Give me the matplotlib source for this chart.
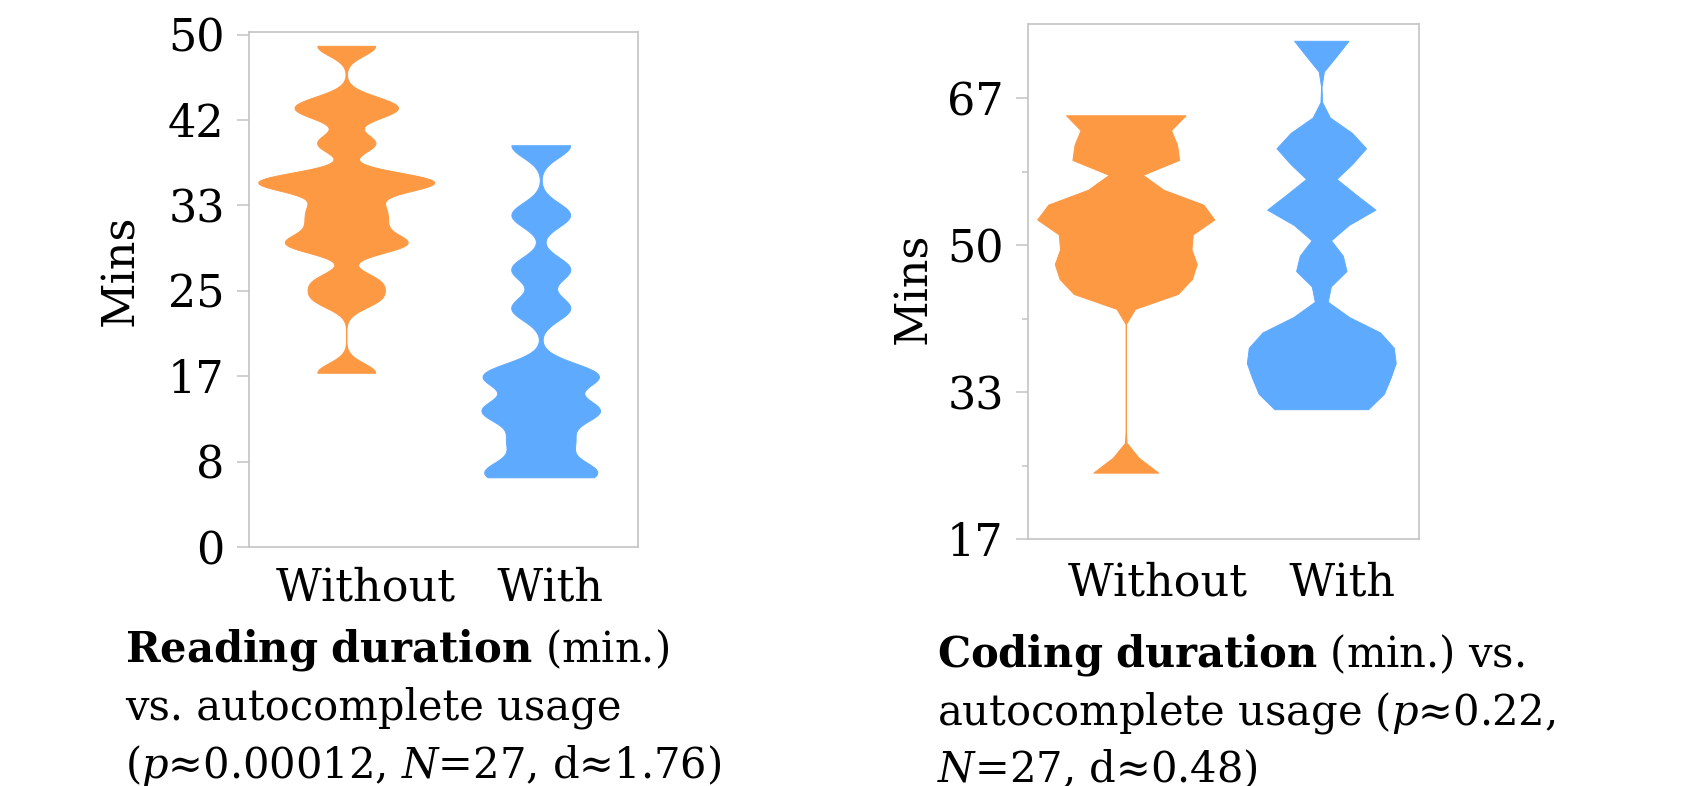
import numpy as np
import matplotlib
matplotlib.use('Agg')
import matplotlib.pyplot as plt
from matplotlib import cbook, mlab

# minutes per participant
reading_without = [48.9, 43.3, 42.4, 39.4, 35.6, 35.6, 35.6, 33.2, 31.6,
                   29.6, 29.6, 25.9, 24.2, 17.0]
reading_with = [39.2, 32.4, 27.1, 23.3, 17.0, 16.4, 13.6, 13.0, 10.3,
                7.6, 6.8]
coding_without = [64.75, 64.0, 60.8, 60.0, 55.6, 54.2, 53.2, 52.3, 50.6,
                  48.6, 48.0, 45.6, 45.0, 24.2]
coding_with = [73.2, 62.0, 60.0, 54.2, 54.2, 47.7, 40.6, 39.2, 37.6,
               36.3, 34.8, 33.0, 31.4]

group_labels = ['Without', 'With']
colors = ['#fd9843', '#5eaaff']

reading_caption = [r'$\mathbf{Reading\ duration}$ (min.)',
                   'vs. autocomplete usage',
                   r'($\mathit{p}$≈0.00012, $\mathit{N}$=27, d≈1.76)']
coding_caption = [r'$\mathbf{Coding\ duration}$ (min.) vs.',
                  r'autocomplete usage ($\mathit{p}$≈0.22,',
                  r'$\mathit{N}$=27, d≈0.48)']

plt.rcParams['font.family'] = 'DejaVu Serif'
plt.rcParams['mathtext.fontset'] = 'dejavuserif'

GRAY = '#c4c4c4'


def draw_violins(ax, data, bw, points, max_width):
    def kde(x, coords):
        return mlab.GaussianKDE(x, bw).evaluate(coords)

    stats = cbook.violin_stats(data, kde, points=points)
    peaks = [s['vals'].max() for s in stats]
    widths = [max_width * p / max(peaks) for p in peaks]
    parts = ax.violin(stats, positions=[1, 2], widths=widths,
                      showmeans=False, showextrema=False, showmedians=False)
    for body, color in zip(parts['bodies'], colors):
        body.set_facecolor(color)
        body.set_edgecolor(color)
        body.set_linewidth(0.7)
        body.set_alpha(1)


def style_axes(ax):
    for spine in ax.spines.values():
        spine.set_color(GRAY)
        spine.set_linewidth(1.2)
    ax.set_xlim(0.5, 2.5)
    ax.set_xticks([])
    ax.tick_params(axis='y', which='major', length=8.5, width=1.1,
                   color=GRAY, pad=9, labelsize=32)
    ax.tick_params(axis='y', which='minor', length=4, width=1.1, color=GRAY)
    ax.set_xlabel('   '.join(group_labels), fontsize=32)
    ax.xaxis.label.set_va('baseline')
    ax.set_ylabel('Mins', fontsize=32)


fig = plt.figure(figsize=(16.95, 7.86), dpi=100)

# reading panel
ax1 = fig.add_axes([0.1469, 0.3041, 0.2295, 0.6552])
draw_violins(ax1, [reading_without, reading_with], 0.113, 200, 0.906)
style_axes(ax1)
ax1.set_ylim(0, 50.25)
ticks = np.linspace(0, 50, 7)
ax1.set_yticks(ticks, [f'{t:.0f}' for t in ticks])
ax1.xaxis.set_label_coords(0.49, -0.103)
ax1.yaxis.set_label_coords(-0.274, 0.538)

# coding panel
ax2 = fig.add_axes([0.6065, 0.3142, 0.2307, 0.6552])
draw_violins(ax2, [coding_without, coding_with], 0.122, 25, 0.906)
style_axes(ax2)
ax2.set_ylim(50 / 3, 75.1)
major = np.linspace(50 / 3, 200 / 3, 4)
ax2.set_yticks(major, [f'{t:.0f}' for t in major])
ax2.set_yticks([25, 125 / 3, 175 / 3], minor=True)
ax2.xaxis.set_label_coords(0.52, -0.109)
ax2.yaxis.set_label_coords(-0.237, 0.486)

for i, line in enumerate(reading_caption):
    fig.text(0.0737, 0.1578 - i * 0.0735, line, fontsize=30, va='baseline')
for i, line in enumerate(coding_caption):
    fig.text(0.5528, 0.1514 - i * 0.0735, line, fontsize=30, va='baseline')

fig.savefig('out.png', dpi=100)
